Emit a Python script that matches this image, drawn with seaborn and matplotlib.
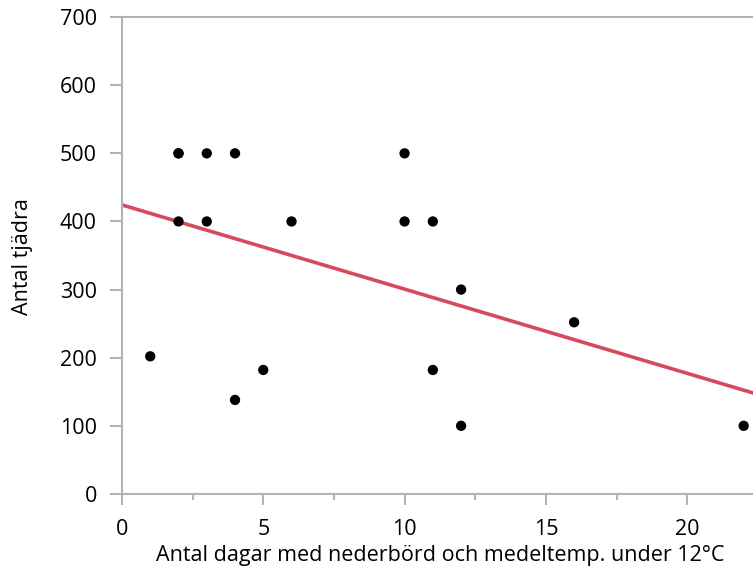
import matplotlib
matplotlib.use("Agg")
import matplotlib.pyplot as plt
import seaborn as sns
import pandas as pd
from matplotlib.ticker import MultipleLocator

# data
dagar = [1, 2, 2, 2, 3, 3, 4, 4, 5, 6, 10, 10, 11, 11, 12, 12, 16, 22]
tjadra = [202, 500, 500, 400, 500, 400, 500, 138, 182, 400, 500, 400, 400, 182, 300, 100, 252, 100]

df = pd.DataFrame({"dagar": dagar, "tjadra": tjadra})

sns.set_style("white")
plt.rcParams["font.family"] = ["Open Sans", "DejaVu Sans"]
plt.rcParams["text.color"] = "black"
plt.rcParams["axes.labelcolor"] = "black"

fig = plt.figure(figsize=(7.53, 5.71), dpi=100)
ax = fig.add_axes([0.162, 0.135, 0.838, 0.835])

ax.set_xlim(0, 22.33)
ax.set_ylim(0, 700)

sns.scatterplot(data=df, x="dagar", y="tjadra", color="black", s=55,
                edgecolor="none", ax=ax, zorder=3)
sns.regplot(data=df, x="dagar", y="tjadra", scatter=False, ci=None,
            truncate=False, color="#d64a5a", line_kws={"linewidth": 2.6}, ax=ax)

ax.set_xlim(0, 22.33)
ax.set_ylim(0, 700)

grey = "#b3b3b3"
for side in ["left", "bottom", "top"]:
    ax.spines[side].set_color(grey)
    ax.spines[side].set_linewidth(1.5)
ax.spines["right"].set_visible(False)

ax.xaxis.set_major_locator(MultipleLocator(5))
ax.xaxis.set_minor_locator(MultipleLocator(2.5))
ax.yaxis.set_major_locator(MultipleLocator(100))
ax.tick_params(axis="x", which="major", direction="out", length=8, width=1.5,
               color=grey, labelsize=15.5, labelcolor="black", pad=10, bottom=True)
ax.tick_params(axis="x", which="minor", direction="out", length=4, width=1.5,
               color=grey, bottom=True)
ax.tick_params(axis="y", which="major", direction="out", length=9, width=1.5,
               color=grey, labelsize=15.5, labelcolor="black", pad=9, left=True)

ax.set_xlabel("Antal dagar med nederbörd och medeltemp. under 12°C", fontsize=15.5)
ax.set_ylabel("Antal tjädra", fontsize=15.5)
ax.xaxis.set_label_coords(0.504, -0.107)
ax.yaxis.set_label_coords(-0.141, 0.497)

fig.savefig("out.png", dpi=100)
